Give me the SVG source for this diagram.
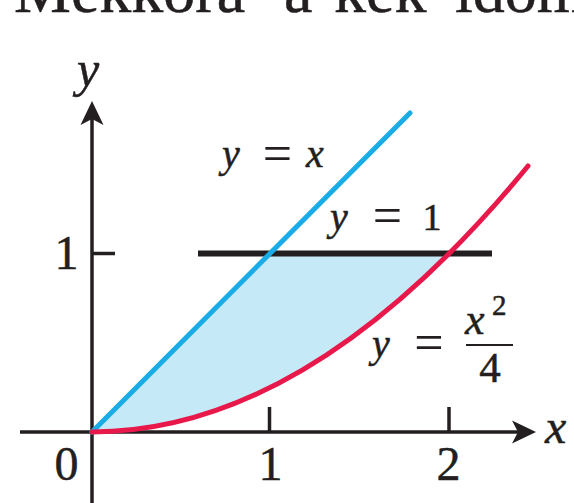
<svg xmlns="http://www.w3.org/2000/svg" width="574" height="503" viewBox="0 0 574 503">
<style>
.t{font-family:"Liberation Serif","Times New Roman",serif;fill:#231f20;stroke:#231f20;stroke-width:0.5}
.i{font-style:italic}
.eq{font-size:52px;stroke-width:0}
.ax{stroke:#231f20;stroke-width:3.5;fill:none}
.ah{fill:#231f20;stroke:none}
</style>
<rect width="574" height="503" fill="#fff"/>
<g id="title">
<text class="t" x="14" y="12" font-size="64">Mekkora</text>
<text class="t" x="284" y="12" font-size="64">a</text>
<text class="t" x="334" y="12" font-size="64">kék</text>
<text class="t" x="455" y="12" font-size="64">idom</text>
</g>
<g id="region">
<path d="M92,432 L270.5,253.5 L449,253.5 Q270.5,432 92,432 Z" fill="#c6e9f8"/>
</g>
<g id="connectors">
<line class="ax" x1="20" y1="432" x2="522" y2="432"/>
<path class="ah" d="M536,432 L512,420.5 L518,432 L512,443.5 Z"/>
<line class="ax" x1="92" y1="503" x2="92" y2="116"/>
<path class="ah" d="M92,101 L80.5,125 L92,119 L103.5,125 Z"/>
<line class="ax" x1="92" y1="253.5" x2="115" y2="253.5"/>
<line class="ax" x1="269.5" y1="432" x2="269.5" y2="407"/>
<line class="ax" x1="449" y1="432" x2="449" y2="407"/>
</g>
<g id="line-y1">
<line x1="198" y1="253.5" x2="492" y2="253.5" stroke="#231f20" stroke-width="6"/>
</g>
<g id="line-yx">
<line x1="92" y1="432" x2="410" y2="113" stroke="#1aace6" stroke-width="5" stroke-linecap="round"/>
</g>
<g id="parabola">
<path d="M92,432 Q310,432 528,166" fill="none" stroke="#e8194a" stroke-width="5" stroke-linecap="round"/>
</g>
<g id="labels">
<text class="t i" x="77" y="86" font-size="50">y</text>
<text class="t i" x="545" y="443" font-size="48">x</text>
<text class="t" x="66.5" y="269" font-size="48" text-anchor="middle">1</text>
<text class="t" x="66.5" y="480" font-size="48" text-anchor="middle">0</text>
<text class="t" x="270.5" y="480" font-size="48" text-anchor="middle">1</text>
<text class="t" x="448.5" y="480" font-size="48" text-anchor="middle">2</text>
</g>
<g id="label-yx">
<text class="t i" x="222" y="167" font-size="40">y</text>
<text class="t eq" x="277.5" y="171" text-anchor="middle">=</text>
<text class="t i" x="306" y="167" font-size="40">x</text>
</g>
<g id="label-y1">
<text class="t i" x="330" y="230" font-size="40">y</text>
<text class="t eq" x="387.5" y="233" text-anchor="middle">=</text>
<text class="t" x="432" y="230" font-size="38" text-anchor="middle">1</text>
</g>
<g id="label-parabola">
<text class="t i" x="372" y="357" font-size="40">y</text>
<text class="t eq" x="429" y="360" text-anchor="middle">=</text>
<text class="t i" x="465" y="334" font-size="44">x</text>
<text class="t" x="492" y="315" font-size="29">2</text>
<line x1="466" y1="345" x2="513" y2="345" stroke="#231f20" stroke-width="2"/>
<text class="t" x="490" y="382" font-size="43" text-anchor="middle">4</text>
</g>
</svg>
